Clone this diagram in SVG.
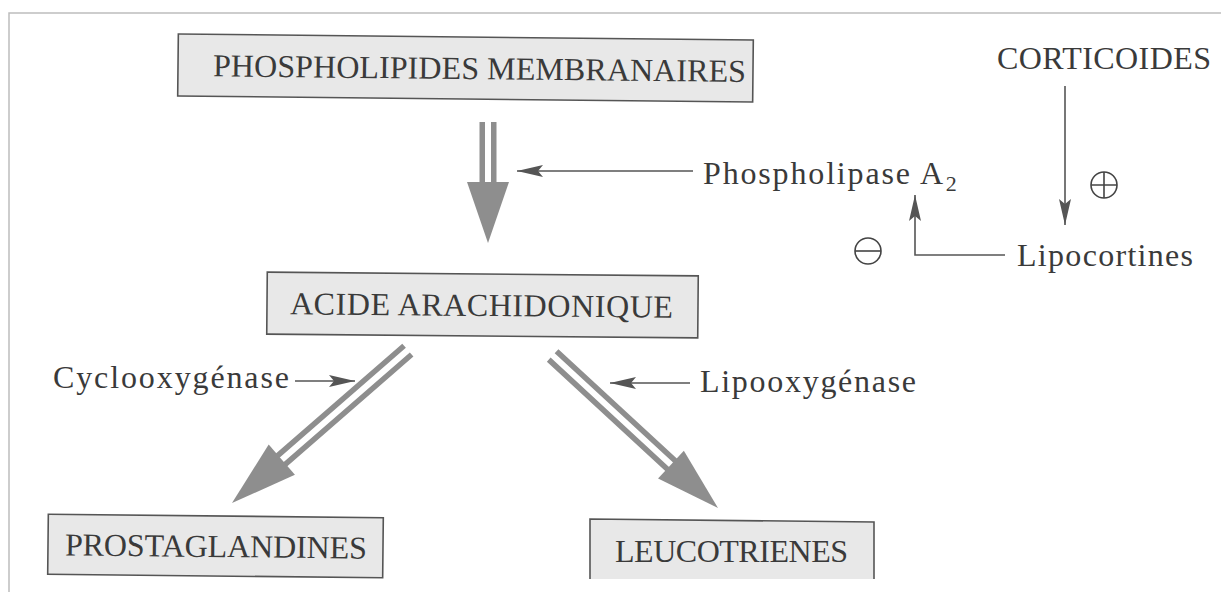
<svg xmlns="http://www.w3.org/2000/svg" width="1221" height="592" viewBox="0 0 1221 592">
  <style>
    .box { fill: #e8e8e8; stroke: #555; stroke-width: 1.6; }
    .t { font-family: "Liberation Serif", "Times New Roman", serif; font-size: 32px; fill: #3a3a3a; }
    .thin { stroke: #555; stroke-width: 1.6; fill: none; marker-end: url(#head); }
    .shaft { stroke: #8e8e8e; stroke-width: 5.5; fill: none; }
    .bighead { fill: #8e8e8e; }
    .sign { stroke: #444; stroke-width: 1.6; fill: none; }
  </style>
  <defs>
    <marker id="head" markerUnits="userSpaceOnUse" markerWidth="26" markerHeight="12" viewBox="0 0 26 12" refX="26" refY="6" orient="auto">
      <path d="M0,0 L26,6 L0,12 L5,6 Z" fill="#555"/>
    </marker>
  </defs>

  <rect x="0" y="0" width="1221" height="592" fill="#fff"/>
  <path d="M9,592 L9,13 L1221,13" fill="none" stroke="#bdbdbd" stroke-width="1.5"/>

  <g id="phospholipides" transform="rotate(0.6 465.5 68)">
    <rect class="box" x="178" y="37" width="575" height="62"/>
    <text class="t" x="213" y="79" textLength="533" lengthAdjust="spacing">PHOSPHOLIPIDES MEMBRANAIRES</text>
  </g>

  <g id="acide" transform="rotate(0.5 482.5 305)">
    <rect class="box" x="267" y="274" width="431" height="62"/>
    <text class="t" x="290" y="316" textLength="383" lengthAdjust="spacing">ACIDE ARACHIDONIQUE</text>
  </g>

  <g id="prostaglandines" transform="rotate(0.6 215.5 546)">
    <rect class="box" x="48" y="516" width="335" height="60"/>
    <text class="t" x="65" y="557" textLength="302" lengthAdjust="spacing">PROSTAGLANDINES</text>
  </g>

  <g id="leucotrienes">
    <path d="M590,579 L590,519 L874,522 L874,579 Z" fill="#e8e8e8"/>
    <path d="M590,579 L590,519 L874,522 L874,579" fill="none" stroke="#555" stroke-width="1.6"/>
    <text class="t" x="615" y="562" textLength="233" lengthAdjust="spacing">LEUCOTRIENES</text>
  </g>

  <g id="corticoides">
    <text class="t" x="997" y="69" textLength="214" lengthAdjust="spacing">CORTICOIDES</text>
  </g>

  <g id="phospholipase">
    <text class="t" x="703" y="184"><tspan textLength="240" lengthAdjust="spacing">Phospholipase A</tspan><tspan font-size="22" dy="7" dx="1">2</tspan></text>
  </g>

  <g id="lipocortines">
    <text class="t" x="1017" y="266" textLength="176" lengthAdjust="spacing">Lipocortines</text>
  </g>

  <g id="cyclooxygenase">
    <text class="t" x="53" y="388" textLength="236" lengthAdjust="spacing">Cyclooxygénase</text>
  </g>

  <g id="lipooxygenase">
    <text class="t" x="700" y="392" textLength="216" lengthAdjust="spacing">Lipooxygénase</text>
  </g>

  <g id="plus">
    <circle class="sign" cx="1104" cy="185" r="13"/>
    <path class="sign" d="M1091,185 H1117 M1104,172 V198"/>
  </g>

  <g id="minus">
    <circle class="sign" cx="868" cy="251" r="13"/>
    <path class="sign" d="M855,251 H881" stroke-width="2.4"/>
  </g>

  <g id="connectors">
    <g transform="translate(488 243) rotate(90)">
      <path class="shaft" d="M-121,-5.75 H-59 M-121,5.75 H-59"/>
      <polygon class="bighead" points="0,0 -61,-21 -61,21"/>
    </g>
    <g transform="translate(232 503) rotate(139)">
      <path class="shaft" d="M-233,-5.75 H-64 M-233,5.75 H-64"/>
      <polygon class="bighead" points="0,0 -66,-20 -66,20"/>
    </g>
    <g transform="translate(718 508) rotate(42.7)">
      <path class="shaft" d="M-225,-5.75 H-62 M-225,5.75 H-62"/>
      <polygon class="bighead" points="0,0 -64,-19 -64,19"/>
    </g>

    <path class="thin" d="M693,171 H517"/>
    <path class="thin" d="M295,381 H355"/>
    <path class="thin" d="M690,383 H610"/>
    <path class="thin" d="M1065,86 V225"/>
    <path class="thin" d="M1005,255 H915 V195"/>
  </g>
</svg>
